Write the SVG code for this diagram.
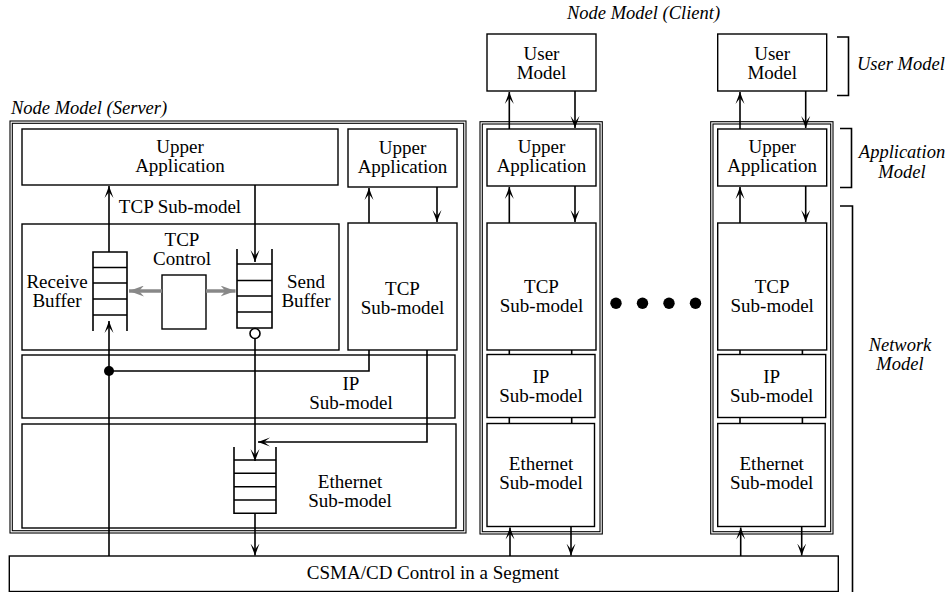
<svg xmlns="http://www.w3.org/2000/svg" width="947" height="592" viewBox="0 0 947 592" font-family="Liberation Serif, Times New Roman, serif">
<defs>
<style>
.b{fill:#fff;stroke:#000;stroke-width:1.4}
.n{fill:none;stroke:#000;stroke-width:1.1}
.c{fill:none;stroke:#000;stroke-width:1.6}
.g{fill:none;stroke:#888;stroke-width:3.5}
.t{font-family:'Liberation Serif','Times New Roman',serif;font-size:19px;text-anchor:middle;fill:#000}
.i{font-style:italic;font-size:18.5px}
.s{text-anchor:start}
</style>
<marker id="ah" viewBox="0 0 12 10" refX="12" refY="5" markerWidth="12" markerHeight="10" markerUnits="userSpaceOnUse" orient="auto">
<path d="M0,0.5 L12,5 L0,9.5 L6,5 z" fill="#000"/>
</marker>
<marker id="gh" viewBox="0 0 15 11" refX="15" refY="5.5" markerWidth="15" markerHeight="11" markerUnits="userSpaceOnUse" orient="auto">
<path d="M0,0 L15,5.5 L0,11 L5,5.5 z" fill="#888"/>
</marker>
</defs>
<rect width="947" height="592" fill="#fff"/>

<g id="server">
<text class="t i s" x="11" y="114">Node Model (Server)</text>
<rect class="n" x="10" y="121" width="456" height="412"/>
<rect class="n" x="12.3" y="123.3" width="451.4" height="407.4"/>
<g id="s-upper-app">
<rect class="b" x="22" y="129" width="316" height="56"/>
<text class="t" x="180" y="153">Upper</text>
<text class="t" x="180" y="172">Application</text>
</g>
<g id="s-upper-app2">
<rect class="b" x="348" y="129" width="109" height="58"/>
<text class="t" x="402.5" y="154">Upper</text>
<text class="t" x="402.5" y="173">Application</text>
</g>
<text class="t" x="180" y="213">TCP Sub-model</text>
<g id="s-tcp">
<rect class="b" x="22" y="224" width="317" height="126"/>
<text class="t" x="182" y="246">TCP</text>
<text class="t" x="182" y="265">Control</text>
<rect class="b" x="162" y="275" width="44" height="54"/>
<text class="t" x="57" y="288">Receive</text>
<text class="t" x="57" y="307">Buffer</text>
<text class="t" x="306" y="288">Send</text>
<text class="t" x="306" y="307">Buffer</text>
<path class="c" d="M93,331 V252 H127 V331 M93,267.5 H127 M93,283 H127 M93,299 H127 M93,315 H127"/>
<path class="c" d="M237,249 V328 H272 V249 M237,264 H272 M237,280.5 H272 M237,296 H272 M237,312 H272"/>
</g>
<g id="s-tcp2">
<rect class="b" x="348" y="223" width="109" height="127"/>
<text class="t" x="402.5" y="295">TCP</text>
<text class="t" x="402.5" y="314">Sub-model</text>
</g>
<g id="s-ip">
<rect class="b" x="22" y="355" width="433" height="63"/>
<text class="t" x="351" y="390">IP</text>
<text class="t" x="351" y="409">Sub-model</text>
</g>
<g id="s-eth">
<rect class="b" x="22" y="424" width="434" height="104"/>
<text class="t" x="350" y="488">Ethernet</text>
<text class="t" x="350" y="507">Sub-model</text>
<path class="c" d="M234,447 V513.3 H276 V447 M234,460 H276 M234,473.3 H276 M234,486.7 H276 M234,500 H276"/>
</g>
</g>

<g id="client1">
<g id="c1-user"><rect class="b" x="487" y="34" width="109" height="57"/>
<text class="t" x="541.5" y="60">User</text><text class="t" x="541.5" y="79">Model</text></g>
<rect class="n" x="480" y="121.7" width="122.3" height="412.3"/>
<rect class="n" x="482.3" y="124" width="117.7" height="407.7"/>
<g id="c1-app"><rect class="b" x="487" y="129" width="109" height="57"/>
<text class="t" x="541.5" y="153">Upper</text><text class="t" x="541.5" y="172">Application</text></g>
<g id="c1-tcp"><rect class="b" x="487" y="223" width="109" height="127"/>
<text class="t" x="541.5" y="293">TCP</text><text class="t" x="541.5" y="312">Sub-model</text></g>
<g id="c1-ip"><rect class="b" x="487" y="354.5" width="108" height="63"/>
<text class="t" x="541" y="383">IP</text><text class="t" x="541" y="402">Sub-model</text></g>
<g id="c1-eth"><rect class="b" x="487" y="423.5" width="107.5" height="103"/>
<text class="t" x="541" y="470">Ethernet</text><text class="t" x="541" y="489">Sub-model</text></g>
</g>

<g id="client2">
<g id="c2-user"><rect class="b" x="717.7" y="34" width="109" height="57"/>
<text class="t" x="772.2" y="60">User</text><text class="t" x="772.2" y="79">Model</text></g>
<rect class="n" x="710.7" y="121.7" width="122.3" height="412.3"/>
<rect class="n" x="713" y="124" width="117.7" height="407.7"/>
<g id="c2-app"><rect class="b" x="717.7" y="129" width="109" height="57"/>
<text class="t" x="772.2" y="153">Upper</text><text class="t" x="772.2" y="172">Application</text></g>
<g id="c2-tcp"><rect class="b" x="717.7" y="223" width="109" height="127"/>
<text class="t" x="772.2" y="293">TCP</text><text class="t" x="772.2" y="312">Sub-model</text></g>
<g id="c2-ip"><rect class="b" x="717.7" y="354.5" width="108" height="63"/>
<text class="t" x="771.7" y="383">IP</text><text class="t" x="771.7" y="402">Sub-model</text></g>
<g id="c2-eth"><rect class="b" x="717.7" y="423.5" width="107.5" height="103"/>
<text class="t" x="771.7" y="470">Ethernet</text><text class="t" x="771.7" y="489">Sub-model</text></g>
</g>
<text class="t i s" x="567" y="19">Node Model (Client)</text>

<g id="csma">
<rect class="b" x="9.3" y="556" width="829" height="35.5"/>
<text class="t" x="433" y="579">CSMA/CD Control in a Segment</text>
</g>

<g id="dots" fill="#000">
<circle cx="616" cy="303.3" r="5.7"/>
<circle cx="642.5" cy="303.3" r="5.7"/>
<circle cx="669" cy="303.3" r="5.7"/>
<circle cx="695.5" cy="303.3" r="5.7"/>
</g>

<g id="brackets">
<path class="c" d="M837,37 H848.5 V95.5 H837"/>
<text class="t i s" x="857" y="70">User Model</text>
<path class="c" d="M840,128.5 H851.5 V187.5 H840"/>
<text class="t i" x="902" y="158">Application</text>
<text class="t i" x="902" y="178">Model</text>
<path class="c" d="M840,206 H852.5 V600"/>
<text class="t i" x="900" y="351">Network</text>
<text class="t i" x="900" y="370">Model</text>
</g>

<g id="connectors">
<path class="c" d="M109,252 V186" marker-end="url(#ah)"/>
<path class="c" d="M255,185 V262" marker-end="url(#ah)"/>
<path class="c" d="M369,223 V188" marker-end="url(#ah)"/>
<path class="c" d="M437,187 V222" marker-end="url(#ah)"/>
<path class="g" d="M162,291 H129" marker-end="url(#gh)"/>
<path class="g" d="M206,291 H235.5" marker-end="url(#gh)"/>
<path class="c" d="M109,556 V321" marker-end="url(#ah)"/>
<path class="c" d="M369,350 V371 H109"/>
<circle cx="109" cy="371" r="5" fill="#000"/>
<path class="c" d="M255,338.5 V461" marker-end="url(#ah)"/>
<circle cx="255" cy="333.5" r="5" fill="#fff" stroke="#000" stroke-width="1.6"/>
<path class="c" d="M427,350 V442 H258" marker-end="url(#ah)"/>
<path class="c" d="M255,513.3 V555.5" marker-end="url(#ah)"/>

<path class="c" d="M509.3,129 V92" marker-end="url(#ah)"/>
<path class="c" d="M575,91 V128" marker-end="url(#ah)"/>
<path class="c" d="M509.3,223 V187" marker-end="url(#ah)"/>
<path class="c" d="M575,186 V222" marker-end="url(#ah)"/>
<path class="c" d="M509.3,350 V354.5 M571.7,350 V354.5 M509.3,417.5 V423.5 M571.7,417.5 V423.5"/>
<path class="c" d="M510,556 V527.5" marker-end="url(#ah)"/>
<path class="c" d="M571,526.5 V555.5" marker-end="url(#ah)"/>

<path class="c" d="M740,129 V92" marker-end="url(#ah)"/>
<path class="c" d="M805.7,91 V128" marker-end="url(#ah)"/>
<path class="c" d="M740,223 V187" marker-end="url(#ah)"/>
<path class="c" d="M805.7,186 V222" marker-end="url(#ah)"/>
<path class="c" d="M740,350 V354.5 M802.4,350 V354.5 M740,417.5 V423.5 M802.4,417.5 V423.5"/>
<path class="c" d="M740.7,556 V527.5" marker-end="url(#ah)"/>
<path class="c" d="M801.7,526.5 V555.5" marker-end="url(#ah)"/>
</g>
</svg>
